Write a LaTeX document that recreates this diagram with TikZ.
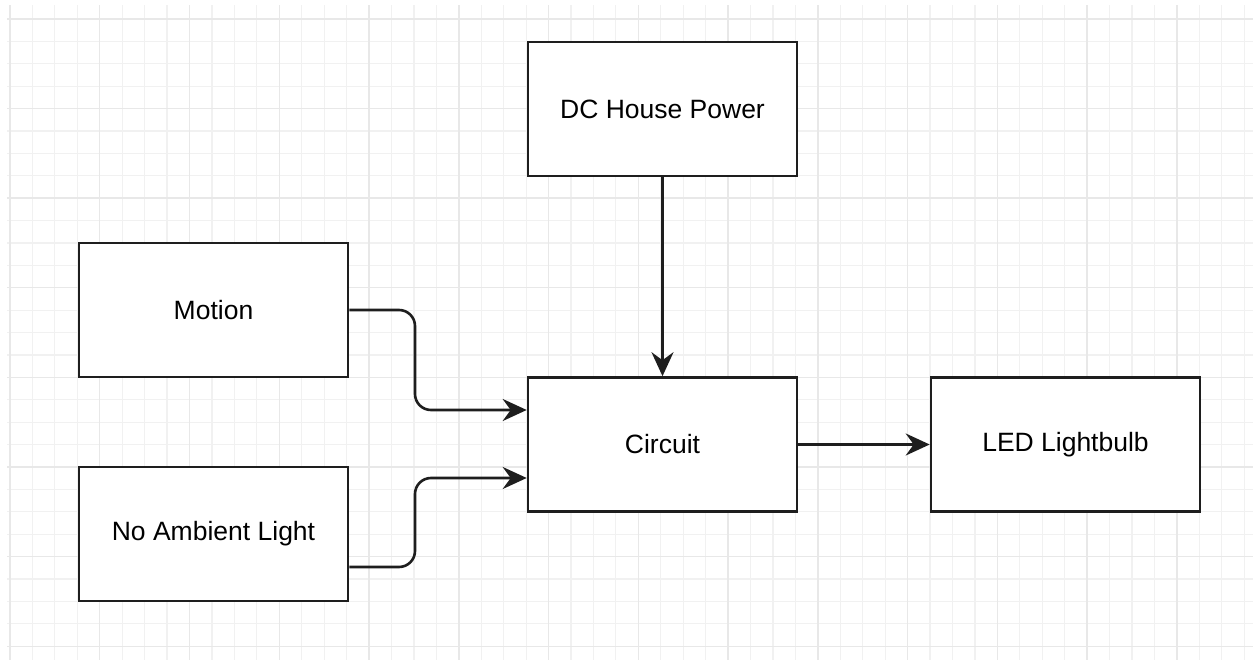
\documentclass[tikz,border=0pt]{standalone}
\usepackage{fontspec}
\setmainfont{Liberation Sans}
\usetikzlibrary{arrows.meta}
\definecolor{gridminor}{HTML}{F1F1F1}
\definecolor{gridmajor}{HTML}{E8E8E8}
\definecolor{ink}{HTML}{1E1E1E}
\tikzset{
  blockbox/.style={draw=ink, line width=2.6pt, fill=white, minimum width=269pt, minimum height=134pt, inner sep=0pt, font=\fontsize{26.5}{31}\selectfont},
  conn/.style={draw=ink, line width=2.6pt, -{Stealth[length=24pt,width=22pt,inset=8pt]}},
  roundconn/.style={conn, rounded corners=16pt},
  gminor/.style={draw=gridminor, line width=1.2pt},
  gmajor/.style={draw=gridmajor, line width=1.4pt}
}
\begin{document}
\begin{tikzpicture}[x=1pt,y=-1pt]
\useasboundingbox (0,0) rectangle (1253,660);
\fill[white] (0,0) rectangle (1253,660);
\begin{scope}
\clip (7,6) rectangle (1253,660);
\foreach \k in {0,...,55} {
  \pgfmathsetmacro{\xx}{10+22.44*\k}
  \draw[gminor] (\xx,0) -- (\xx,660);
}
\foreach \k in {0,...,28} {
  \pgfmathsetmacro{\yy}{19+22.4*\k}
  \draw[gminor] (0,\yy) -- (1253,\yy);
}
\foreach \k in {0,...,13} {
  \pgfmathsetmacro{\xx}{10+89.76*\k}
  \draw[gmajor] (\xx,0) -- (\xx,660);
}
\foreach \k in {0,...,7} {
  \pgfmathsetmacro{\yy}{19+89.6*\k}
  \draw[gmajor] (0,\yy) -- (1253,\yy);
}
\end{scope}

\node[blockbox] (dc) at (662.5,109) {DC House Power};
\node[blockbox] (motion) at (213.5,310) {Motion};
\node[blockbox] (circuit) at (662.5,444.5) {Circuit};
\node[blockbox] (led) at (1065.5,444.5) {LED Lightbulb};
\node[blockbox] (noamb) at (213.5,534) {No Ambient Light};

\coordinate (mid1) at (415,0);
\draw[roundconn] (motion.east) -| ([yshift=34.5pt]circuit.west -| mid1) -- ([yshift=34.5pt]circuit.west);
\draw[roundconn] ([yshift=-33pt]noamb.east) -| ([yshift=-33.5pt]circuit.west -| mid1) -- ([yshift=-33.5pt]circuit.west);
\draw[conn] (dc.south) -- (circuit.north);
\draw[conn] (circuit.east) -- (led.west);
\end{tikzpicture}
\end{document}
